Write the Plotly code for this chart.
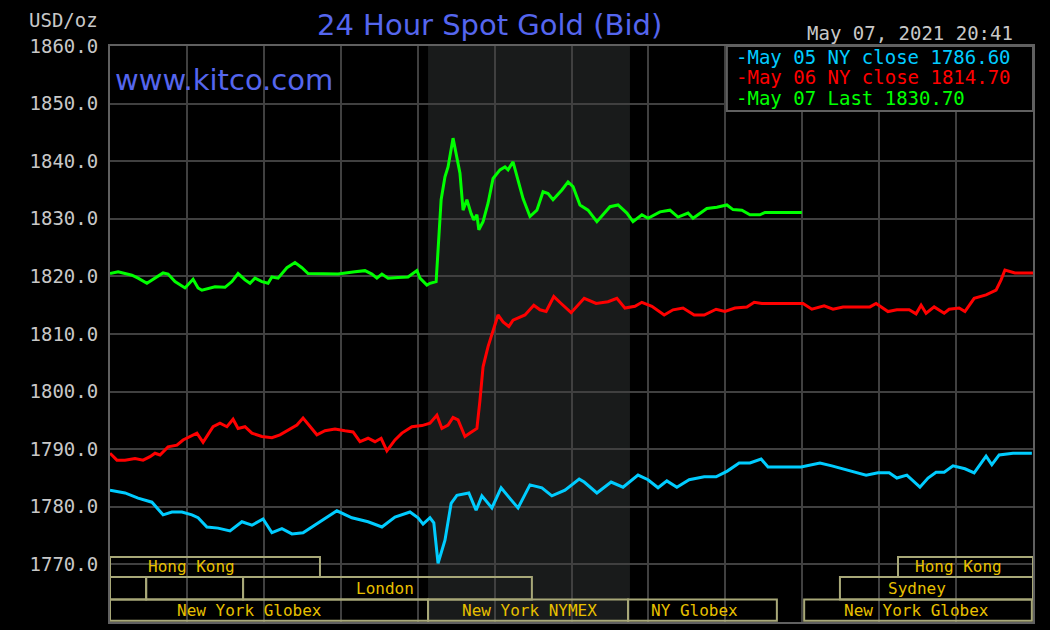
"""24 hour spot gold (bid) chart, kitco style."""

import plotly.graph_objects as go

# hours since midnight (NY time) and bid price, one pair of lists per day
may05_hours = [0.00, 0.39, 0.73, 1.09, 1.38, 1.61, 1.87, 2.13, 2.29, 2.52, 2.81, 3.12,
               3.43, 3.69, 3.98, 4.21, 4.47, 4.73, 5.02, 5.41, 5.90, 6.29, 6.71, 7.07,
               7.41, 7.80, 8.01, 8.14, 8.32, 8.42, 8.53, 8.71, 8.87, 9.02, 9.33, 9.52,
               9.67, 9.93, 10.17, 10.43, 10.61, 10.92, 11.23, 11.49, 11.83, 12.20, 12.33,
               12.66, 13.03, 13.34, 13.73, 13.99, 14.25, 14.48, 14.74, 15.06, 15.45,
               15.76, 16.05, 16.36, 16.64, 16.93, 17.11, 17.97, 18.46, 18.77, 19.16,
               19.37, 19.66, 19.97, 20.26, 20.46, 20.72, 21.06, 21.27, 21.48, 21.69,
               21.92, 22.23, 22.47, 22.78, 22.93, 23.12, 23.48, 23.97]
may05_bid = [1782.9, 1782.4, 1781.5, 1780.8, 1778.6, 1779.1, 1779.1, 1778.6, 1778.1,
             1776.5, 1776.3, 1775.8, 1777.4, 1776.8, 1777.9, 1775.5, 1776.2, 1775.3,
             1775.5, 1777.2, 1779.3, 1778.1, 1777.4, 1776.5, 1778.2, 1779.1, 1778.1,
             1777.0, 1778.1, 1777.2, 1770.2, 1774.2, 1780.6, 1782.0, 1782.4, 1779.4,
             1781.9, 1779.8, 1783.3, 1781.2, 1779.8, 1783.8, 1783.3, 1781.9, 1782.9,
             1784.8, 1784.3, 1782.4, 1784.3, 1783.4, 1785.5, 1784.7, 1783.3, 1784.5,
             1783.4, 1784.7, 1785.2, 1785.2, 1786.2, 1787.6, 1787.6, 1788.3, 1786.9,
             1786.9, 1787.6, 1787.1, 1786.4, 1785.9, 1785.5, 1785.9, 1785.9, 1785.0,
             1785.5, 1783.4, 1785.0, 1786.0, 1786.0, 1787.1, 1786.6, 1785.9, 1788.8,
             1787.3, 1789.0, 1789.3, 1789.3]

may06_hours = [0.00, 0.18, 0.39, 0.65, 0.86, 1.04, 1.17, 1.30, 1.51, 1.74, 1.90, 2.08,
               2.26, 2.42, 2.68, 2.86, 3.04, 3.20, 3.33, 3.51, 3.69, 3.95, 4.21, 4.42,
               4.63, 4.86, 5.02, 5.20, 5.38, 5.59, 5.85, 6.11, 6.32, 6.50, 6.71, 6.89,
               7.05, 7.20, 7.41, 7.59, 7.85, 8.11, 8.32, 8.50, 8.63, 8.79, 8.92, 9.05,
               9.23, 9.36, 9.54, 9.62, 9.70, 9.83, 9.96, 10.09, 10.22, 10.37, 10.48,
               10.79, 11.02, 11.18, 11.34, 11.54, 11.73, 11.99, 12.33, 12.64, 12.95,
               13.18, 13.39, 13.65, 13.83, 14.09, 14.41, 14.64, 14.90, 15.19, 15.45,
               15.76, 15.99, 16.25, 16.56, 16.75, 16.95, 18.02, 18.25, 18.57, 18.80,
               19.06, 19.76, 19.92, 20.23, 20.46, 20.78, 20.96, 21.09, 21.22, 21.43,
               21.69, 21.82, 22.08, 22.23, 22.47, 22.78, 23.04, 23.17, 23.27, 23.53, 24.00]
may06_bid = [1789.3, 1788.1, 1788.1, 1788.4, 1788.1, 1788.7, 1789.3, 1789.0, 1790.4,
             1790.7, 1791.6, 1792.2, 1792.8, 1791.2, 1793.9, 1794.5, 1793.9, 1795.2,
             1793.6, 1793.9, 1792.8, 1792.2, 1792.0, 1792.5, 1793.3, 1794.2, 1795.4,
             1793.9, 1792.5, 1793.2, 1793.5, 1793.2, 1793.0, 1791.3, 1791.9, 1791.3,
             1791.9, 1789.7, 1791.6, 1792.8, 1793.9, 1794.1, 1794.5, 1795.9, 1793.6,
             1794.2, 1795.5, 1795.1, 1792.2, 1792.8, 1793.6, 1798.5, 1804.3, 1807.8,
             1810.7, 1813.3, 1812.1, 1811.3, 1812.4, 1813.3, 1815.0, 1814.2, 1813.9,
             1816.5, 1815.3, 1813.7, 1816.2, 1815.3, 1815.6, 1816.2, 1814.5, 1814.8,
             1815.5, 1814.8, 1813.3, 1814.2, 1814.5, 1813.3, 1813.3, 1814.3, 1813.9,
             1814.5, 1814.7, 1815.5, 1815.3, 1815.3, 1814.3, 1814.9, 1814.3, 1814.7,
             1814.7, 1815.3, 1813.9, 1814.2, 1814.2, 1813.5, 1815.0, 1813.6, 1814.7,
             1813.6, 1814.3, 1814.5, 1813.9, 1816.2, 1816.8, 1817.6, 1819.4, 1821.1,
             1820.6, 1820.6]

may07_hours = [0.00, 0.21, 0.57, 0.73, 0.96, 1.17, 1.38, 1.51, 1.69, 1.95, 2.16, 2.29,
               2.39, 2.73, 2.99, 3.17, 3.33, 3.51, 3.64, 3.77, 3.95, 4.11, 4.21, 4.37,
               4.60, 4.81, 4.99, 5.15, 5.51, 5.93, 6.37, 6.63, 6.81, 6.94, 7.07, 7.23,
               7.49, 7.75, 7.98, 8.06, 8.24, 8.32, 8.48, 8.53, 8.61, 8.71, 8.79, 8.92,
               9.02, 9.10, 9.18, 9.28, 9.39, 9.46, 9.54, 9.59, 9.70, 9.83, 9.96, 10.14,
               10.27, 10.35, 10.48, 10.58, 10.74, 10.92, 11.10, 11.26, 11.39, 11.52,
               11.75, 11.91, 12.04, 12.22, 12.43, 12.66, 13.00, 13.21, 13.44, 13.60,
               13.83, 13.99, 14.30, 14.56, 14.77, 15.03, 15.16, 15.52, 15.78, 16.04,
               16.20, 16.43, 16.64, 16.90, 17.03, 17.99]
may07_bid = [1820.5, 1820.8, 1820.2, 1819.7, 1818.8, 1819.7, 1820.6, 1820.4, 1819.1,
             1818.0, 1819.5, 1818.0, 1817.6, 1818.2, 1818.1, 1819.1, 1820.5, 1819.4,
             1818.8, 1819.7, 1819.1, 1818.8, 1819.9, 1819.7, 1821.5, 1822.4, 1821.5,
             1820.5, 1820.5, 1820.4, 1820.8, 1821.0, 1820.4, 1819.7, 1820.4, 1819.7,
             1819.8, 1819.9, 1821.0, 1819.7, 1818.5, 1818.8, 1819.1, 1824.0, 1833.3,
             1837.3, 1839.0, 1844.0, 1840.8, 1837.9, 1831.5, 1833.3, 1830.9, 1829.8,
             1830.7, 1828.1, 1829.5, 1832.7, 1837.0, 1838.5, 1839.0, 1838.5, 1839.9,
             1837.3, 1833.5, 1830.4, 1831.5, 1834.7, 1834.4, 1833.3, 1835.0, 1836.4,
             1835.6, 1832.4, 1831.5, 1829.5, 1832.1, 1832.4, 1831.0, 1829.5, 1830.7,
             1830.1, 1831.2, 1831.5, 1830.3, 1831.0, 1830.1, 1831.8, 1832.0, 1832.4,
             1831.6, 1831.5, 1830.7, 1830.7, 1831.1, 1831.1]

legend_labels = ["-May 05 NY close 1786.60", "-May 06 NY close 1814.70",
                 "-May 07 Last 1830.70"]
colors = ["#00ccff", "#ff0000", "#00ff00"]

# trading sessions: (label, start hour, end hour, row)
markets = [
    ("Hong Kong", 0.0, 5.46, 0), ("Hong Kong", 20.49, 24.0, 0),
    ("", 0.0, 0.94, 1), ("", 0.94, 3.46, 1), ("London", 3.46, 10.97, 1),
    ("Sydney", 18.98, 24.0, 1),
    ("New York Globex", 0.0, 8.27, 2), ("New York NYMEX", 8.27, 13.47, 2),
    ("NY Globex", 13.47, 17.34, 2), ("New York Globex", 18.05, 23.97, 2),
]
market_text_x = [2.11, 22.05, None, None, 7.15, 20.98, 3.64, 10.9, 15.2, 20.98]
row_top = [1771.3, 1767.8, 1763.9]
row_bottom = [1767.8, 1763.9, 1760.2]

MONO = "DejaVu Sans Mono"
GOLD_LINE = "#a8a878"
GOLD_TEXT = "#e8c000"

fig = go.Figure()
for hrs, bid, c in [(may05_hours, may05_bid, colors[0]),
                    (may06_hours, may06_bid, colors[1]),
                    (may07_hours, may07_bid, colors[2])]:
    fig.add_trace(go.Scatter(x=hrs, y=bid, mode="lines",
                             line=dict(color=c, width=3), showlegend=False,
                             hoverinfo="skip"))

# NYMEX session shading
fig.add_shape(type="rect", x0=8.27, x1=13.52, y0=1760, y1=1860, layer="below",
              fillcolor="#191b1b", line_width=0)

for (label, x0, x1, row), tx in zip(markets, market_text_x):
    fig.add_shape(type="rect", x0=x0, x1=x1, y0=row_bottom[row], y1=row_top[row],
                  layer="between", line=dict(color=GOLD_LINE, width=2),
                  fillcolor="rgba(0,0,0,0)")
    if label:
        fig.add_annotation(x=tx, y=(row_top[row] + row_bottom[row]) / 2, text=label,
                           showarrow=False, font=dict(family=MONO, size=16, color=GOLD_TEXT))

# legend box
fig.add_shape(type="rect", x0=16.04, x1=24, y0=1848.7, y1=1860, layer="above",
              fillcolor="black", line=dict(color="#606060", width=2))
for label, c, yv in zip(legend_labels, colors, [1858.1, 1854.6, 1851.0]):
    fig.add_annotation(x=16.22, y=yv, text=label, showarrow=False, xanchor="left",
                       yanchor="middle", font=dict(family=MONO, size=19, color=c))

fig.add_annotation(xref="paper", yref="paper", x=-0.0108, y=1.045, text="USD/oz",
                   showarrow=False, xanchor="right", yanchor="middle",
                   font=dict(family=MONO, size=19, color="#c8c8c8"))
fig.add_annotation(xref="paper", yref="paper", x=0.9805, y=1.0226,
                   text="May 07, 2021 20:41", showarrow=False, xanchor="right",
                   yanchor="middle", font=dict(family=MONO, size=19, color="#c8c8c8"))
fig.add_annotation(xref="paper", yref="paper", x=0.4117, y=1.0365,
                   text="24 Hour Spot Gold (Bid)", showarrow=False,
                   xanchor="center", yanchor="middle",
                   font=dict(family="DejaVu Sans", size=29, color="#5566ee"))
fig.add_annotation(xref="paper", yref="paper", x=0.0033, y=0.941, text="www.kitco.com",
                   showarrow=False, xanchor="left", yanchor="middle",
                   font=dict(family="DejaVu Sans", size=29, color="#5566ee"))

fig.update_layout(
    width=1050, height=630,
    margin=dict(l=110, r=17, t=46, b=8),
    paper_bgcolor="black", plot_bgcolor="black",
    xaxis=dict(range=[0, 24], dtick=2, showticklabels=False, showgrid=True,
               gridcolor="#404040", gridwidth=2, zeroline=False,
               showline=True, mirror=True, linecolor="#606060", linewidth=2),
    yaxis=dict(range=[1760, 1860], dtick=10, tickformat=".1f", showgrid=True,
               gridcolor="#404040", gridwidth=2, zeroline=False,
               showline=True, mirror=True, linecolor="#606060", linewidth=2,
               ticklabelstandoff=6,
               tickfont=dict(family=MONO, size=19, color="#c8c8c8")),
)

# drop the page's default body margin so the chart sits at the window's corner
fig.write_html("out.html", config={"displayModeBar": False},
               post_script="document.body.style.margin='0';"
                           "document.body.style.background='black';")
